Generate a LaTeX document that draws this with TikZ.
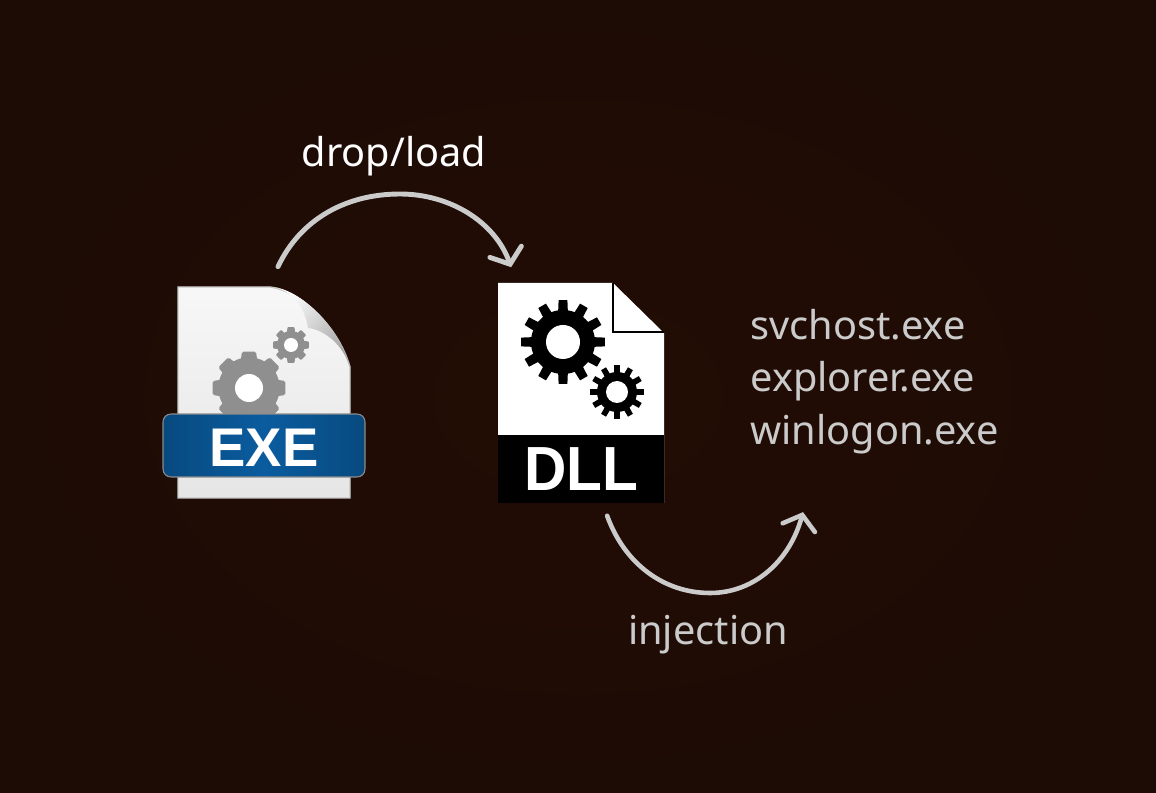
\documentclass[tikz,border=0pt]{standalone}
\usepackage{fontspec}
\setmainfont{Noto Sans}
\newfontfamily\iconfont{Liberation Sans}
\newfontfamily\dllfont[FakeStretch=0.94]{Liberation Sans}
\usetikzlibrary{arrows.meta, positioning, calc}
\definecolor{bgdark}{HTML}{1D0B05}
\definecolor{bgred}{HTML}{230D05}
\definecolor{linegrey}{HTML}{CBCBCB}
\definecolor{exeblue}{HTML}{0A5C9F}
\definecolor{gearexe}{HTML}{8F8F8F}
\tikzstyle{filebox} = [rectangle, inner sep=0pt, minimum width=3.4cm]
\tikzstyle{arrow} = [line width=2.8pt, linegrey, line cap=round, -{Straight Barb[length=7.5pt, width=19pt, line cap=round]}]
\tikzstyle{labeltext} = [inner sep=0pt, font=\fontsize{22.6}{29.8}\selectfont]
\tikzstyle{banner} = [rectangle, inner sep=0pt, text=white, font=\iconfont\bfseries\fontsize{31}{31}\selectfont]
% x, y, outer, root, hole, teeth, fill style
\newcommand{\drawgear}[7]{%
  \begin{scope}[shift={(#1,#2)}]
    \fill[#7] (0,0) circle (#4);
    \foreach \i in {1,...,#6} {
      \pgfmathsetmacro\ang{\i*360/#6+90}
      \pgfmathsetmacro\wroot{0.3*360/#6}
      \pgfmathsetmacro\wtop{0.2*360/#6}
      \fill[#7] (\ang-\wroot:#4-1) -- (\ang-\wtop:#3) -- (\ang+\wtop:#3) -- (\ang+\wroot:#4-1) -- cycle;
    }
    \fill[white] (0,0) circle (#5);
  \end{scope}}

\begin{document}
\begin{tikzpicture}[x=0.02cm, y=-0.02cm, node distance=2.94cm]
\useasboundingbox (0,0) rectangle (1156,793);

% Background
\shade[inner color=bgred, outer color=bgdark] (0,0) rectangle (1156,793);

% Nodes
\node (exefile) [filebox, minimum height=4.22cm] at (264.5,392.5) {};
\node (dllfile) [filebox, minimum height=4.4cm, right=of exefile.east, anchor=west, yshift=-0.02cm] {};

% EXE icon
\draw[line width=0.8pt, draw=black!22, top color=white!97!black, bottom color=white!90!black]
  (178,287) -- (270,287) .. controls (300,291) and (338,325) .. (350,367) -- (350,498) -- (178,498) -- cycle;
\shade[bottom color=black!35, top color=white, shading angle=50]
  (274,287) .. controls (292,291) and (304,305) .. (308,328) .. controls (325,330) and (343,345) .. (350,367) .. controls (340,330) and (305,292) .. cycle;
\drawgear{249}{388}{35}{29}{14}{8}{gearexe, draw=gearexe, line width=2pt, line join=round}
\drawgear{291}{345}{17}{13}{7}{8}{gearexe, draw=gearexe, line width=1.2pt, line join=round}
\node (exe) [banner, draw=black!45, line width=0.6pt, rounded corners=4.5pt, minimum width=4.04cm, minimum height=1.26cm, text height=24pt, left color=exeblue!80!black, right color=exeblue!80!black, middle color=exeblue] at (264,445.5) {EXE};

% DLL icon
\fill[white] (498,283) -- (613,283) -- (664,333) -- (664,503) -- (498,503) -- cycle;
\draw[line width=0.9pt, black] (613,283) -- (613,332) -- (664,332);
\drawgear{563}{342}{42}{32}{17}{12}{black}
\drawgear{617}{392}{27}{20}{11}{12}{black}
\node (dll) [banner, fill=black, minimum width=3.32cm, minimum height=1.36cm, font=\dllfont\bfseries\fontsize{35.5}{35.5}\selectfont] at (581,469) {DLL};

% Labels
\node (droplabel) [labeltext, text=white, anchor=base] at (394,167) {drop/load};
\node (injectlabel) [labeltext, text=linegrey, anchor=base] at (708,644) {injection};
\node (targets) [labeltext, text=linegrey, align=left, anchor=north west] at (750,309) {svchost.exe\\explorer.exe\\winlogon.exe};

% Arrows
\draw [arrow] ([shift={(13.5,-20)}]exefile.north) .. controls (300,220) and (345,194) .. (400,194) .. controls (450,194) and (495,222) .. ([shift={(-71,-16)}]dllfile.north);
\draw [arrow, line width=2.6pt] ([shift={(25,12)}]dllfile.south) .. controls (625,565) and (665,593) .. (710,593) .. controls (755,593) and (790,560) .. ([shift={(53,58)}]targets.south west);

\end{tikzpicture}
\end{document}
